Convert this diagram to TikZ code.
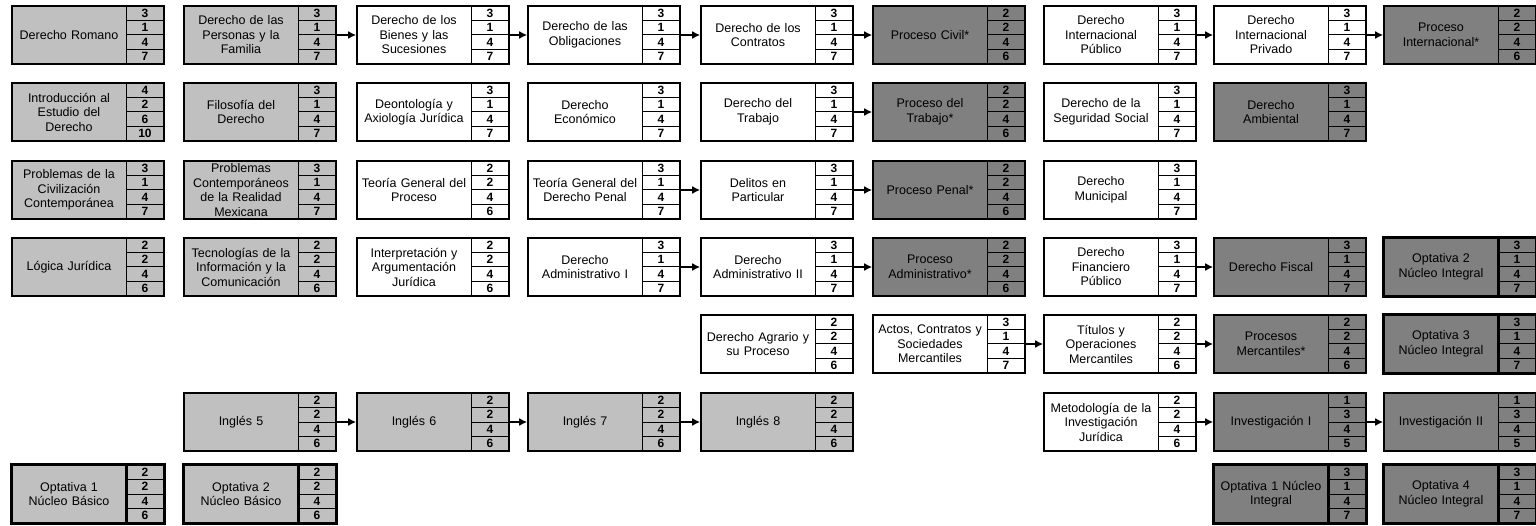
\documentclass[tikz,border=0pt]{standalone}
\usepackage{fontspec}
\setmainfont{Liberation Sans}
\usepackage{tikz}
\usetikzlibrary{shapes, arrows.meta, positioning, fit}
\definecolor{claro}{RGB}{192,192,192}
\definecolor{oscuro}{RGB}{128,128,128}
\tikzset{
  nombre/.style={rectangle, draw, line width=1pt, minimum width=114pt, minimum height=58pt, text width=110pt, align=center, inner sep=2pt, outer sep=0pt, anchor=north west, font=\fontsize{12.5}{14.5}\selectfont},
  celda/.style={rectangle, draw, line width=1pt, minimum width=38pt, minimum height=14.5pt, inner sep=0pt, outer sep=0pt, font=\fontsize{12}{12}\selectfont\bfseries},
  marco/.style={rectangle, draw, line width=1.6pt, inner sep=0pt},
  basica/.style={fill=claro},
  disciplinar/.style={fill=white},
  terminal/.style={fill=oscuro},
  flecha/.style={-{Latex[length=8pt, width=8pt]}, line width=2.4pt},
}
% one subject: name, top left corner, style, text, four numbers
\newcommand{\materia}[8]{%
  \node[nombre, #3] (#1) at #2 {#4};
  \node[celda, #3, anchor=north west] (#1_1) at (#1.north east) {#5};
  \node[celda, #3, below=0pt of #1_1] (#1_2) {#6};
  \node[celda, #3, below=0pt of #1_2] (#1_3) {#7};
  \node[celda, #3, below=0pt of #1_3] (#1_4) {#8};
  \node[marco, fit={(#1)(#1_4)}] (#1_box) {};
}
% heavy frame of the optional subjects
\newcommand{\optativa}[1]{%
  \draw[line width=3pt] (#1_box.north west) rectangle (#1_box.south east) (#1.north east) -- (#1.south east);
}

\begin{document}
\begin{tikzpicture}[x=1pt, y=1pt]
\useasboundingbox (0,0) rectangle (1536,-526);
%row 1
\materia{romano}{(12,-6)}{basica}{Derecho Romano}{3}{1}{4}{7}
\materia{personas}{(184,-6)}{basica}{Derecho de las\\Personas y la\\Familia}{3}{1}{4}{7}
\materia{bienes}{(357,-6)}{disciplinar}{Derecho de los\\Bienes y las\\Sucesiones}{3}{1}{4}{7}
\materia{obligaciones}{(528,-6)}{disciplinar}{Derecho de las\\Obligaciones}{3}{1}{4}{7}
\materia{contratos}{(701,-6)}{disciplinar}{Derecho de los\\Contratos}{3}{1}{4}{7}
\materia{pcivil}{(873,-6)}{terminal}{Proceso Civil*}{2}{2}{4}{6}
\materia{dipublico}{(1044,-6)}{disciplinar}{Derecho\\Internacional\\Público}{3}{1}{4}{7}
\materia{diprivado}{(1214,-6)}{disciplinar}{Derecho\\Internacional\\Privado}{3}{1}{4}{7}
\materia{pinternacional}{(1384,-6)}{terminal}{Proceso\\Internacional*}{2}{2}{4}{6}
%row 2
\materia{introduccion}{(12,-83)}{basica}{Introducción al\\Estudio del\\Derecho}{4}{2}{6}{10}
\materia{filosofia}{(184,-83)}{basica}{Filosofía del\\Derecho}{3}{1}{4}{7}
\materia{deontologia}{(357,-83)}{disciplinar}{Deontología y\\Axiología Jurídica}{3}{1}{4}{7}
\materia{economico}{(528,-83)}{disciplinar}{Derecho\\Económico}{3}{1}{4}{7}
\materia{trabajo}{(701,-83)}{disciplinar}{Derecho del\\Trabajo}{3}{1}{4}{7}
\materia{ptrabajo}{(873,-83)}{terminal}{Proceso del\\Trabajo*}{2}{2}{4}{6}
\materia{seguridad}{(1044,-83)}{disciplinar}{Derecho de la\\Seguridad Social}{3}{1}{4}{7}
\materia{ambiental}{(1214,-83)}{terminal}{Derecho\\Ambiental}{3}{1}{4}{7}
%row 3
\materia{civilizacion}{(12,-161)}{basica}{Problemas de la\\Civilización\\Contemporánea}{3}{1}{4}{7}
\materia{realidad}{(184,-161)}{basica}{Problemas\\Contemporáneos\\de la Realidad\\Mexicana}{3}{1}{4}{7}
\materia{tgproceso}{(357,-161)}{disciplinar}{Teoría General del\\Proceso}{2}{2}{4}{6}
\materia{tgpenal}{(528,-161)}{disciplinar}{Teoría General del\\Derecho Penal}{3}{1}{4}{7}
\materia{delitos}{(701,-161)}{disciplinar}{Delitos en\\Particular}{3}{1}{4}{7}
\materia{ppenal}{(873,-161)}{terminal}{Proceso Penal*}{2}{2}{4}{6}
\materia{municipal}{(1044,-161)}{disciplinar}{Derecho\\Municipal}{3}{1}{4}{7}
%row 4
\materia{logica}{(12,-238)}{basica}{Lógica Jurídica}{2}{2}{4}{6}
\materia{tic}{(184,-238)}{basica}{Tecnologías de la\\Información y la\\Comunicación}{2}{2}{4}{6}
\materia{interpretacion}{(357,-238)}{disciplinar}{Interpretación y\\Argumentación\\Jurídica}{2}{2}{4}{6}
\materia{admin_i}{(528,-238)}{disciplinar}{Derecho\\Administrativo I}{3}{1}{4}{7}
\materia{admin_ii}{(701,-238)}{disciplinar}{Derecho\\Administrativo II}{3}{1}{4}{7}
\materia{padmin}{(873,-238)}{terminal}{Proceso\\Administrativo*}{2}{2}{4}{6}
\materia{financiero}{(1044,-238)}{disciplinar}{Derecho\\Financiero\\Público}{3}{1}{4}{7}
\materia{fiscal}{(1214,-238)}{terminal}{Derecho Fiscal}{3}{1}{4}{7}
\materia{opt2_ni}{(1384,-238)}{terminal}{Optativa 2\\Núcleo Integral}{3}{1}{4}{7}
%row 5
\materia{agrario}{(701,-315)}{disciplinar}{Derecho Agrario y\\su Proceso}{2}{2}{4}{6}
\materia{actos}{(873,-315)}{disciplinar}{Actos, Contratos y\\Sociedades\\Mercantiles}{3}{1}{4}{7}
\materia{titulos}{(1044,-315)}{disciplinar}{Títulos y\\Operaciones\\Mercantiles}{2}{2}{4}{6}
\materia{pmercantiles}{(1214,-315)}{terminal}{Procesos\\Mercantiles*}{2}{2}{4}{6}
\materia{opt3_ni}{(1384,-315)}{terminal}{Optativa 3\\Núcleo Integral}{3}{1}{4}{7}
%row 6
\materia{ingles5}{(184,-393)}{basica}{Inglés 5}{2}{2}{4}{6}
\materia{ingles6}{(357,-393)}{basica}{Inglés 6}{2}{2}{4}{6}
\materia{ingles7}{(528,-393)}{basica}{Inglés 7}{2}{2}{4}{6}
\materia{ingles8}{(701,-393)}{basica}{Inglés 8}{2}{2}{4}{6}
\materia{metodologia}{(1044,-393)}{disciplinar}{Metodología de la\\Investigación\\Jurídica}{2}{2}{4}{6}
\materia{invest_i}{(1214,-393)}{terminal}{Investigación I}{1}{3}{4}{5}
\materia{invest_ii}{(1384,-393)}{terminal}{Investigación II}{1}{3}{4}{5}
%row 7
\materia{opt1_nb}{(12,-465)}{basica}{Optativa 1\\Núcleo Básico}{2}{2}{4}{6}
\materia{opt2_nb}{(184,-465)}{basica}{Optativa 2\\Núcleo Básico}{2}{2}{4}{6}
\materia{opt1_ni}{(1214,-465)}{terminal}{Optativa 1 Núcleo\\Integral}{3}{1}{4}{7}
\materia{opt4_ni}{(1384,-465)}{terminal}{Optativa 4\\Núcleo Integral}{3}{1}{4}{7}
%heavy frames
\optativa{opt2_ni}
\optativa{opt3_ni}
\optativa{opt1_nb}
\optativa{opt2_nb}
\optativa{opt1_ni}
\optativa{opt4_ni}
% links
\draw[flecha] (personas_box) -- (bienes_box);
\draw[flecha] (bienes_box) -- (obligaciones_box);
\draw[flecha] (obligaciones_box) -- (contratos_box);
\draw[flecha] (contratos_box) -- (pcivil_box);
\draw[flecha] (dipublico_box) -- (diprivado_box);
\draw[flecha] (diprivado_box) -- (pinternacional_box);
\draw[flecha] (trabajo_box) -- (ptrabajo_box);
\draw[flecha] (tgpenal_box) -- (delitos_box);
\draw[flecha] (delitos_box) -- (ppenal_box);
\draw[flecha] (admin_i_box) -- (admin_ii_box);
\draw[flecha] (admin_ii_box) -- (padmin_box);
\draw[flecha] (financiero_box) -- (fiscal_box);
\draw[flecha] (actos_box) -- (titulos_box);
\draw[flecha] (titulos_box) -- (pmercantiles_box);
\draw[flecha] (ingles5_box) -- (ingles6_box);
\draw[flecha] (ingles6_box) -- (ingles7_box);
\draw[flecha] (ingles7_box) -- (ingles8_box);
\draw[flecha] (metodologia_box) -- (invest_i_box);
\draw[flecha] (invest_i_box) -- (invest_ii_box);
\end{tikzpicture}
\end{document}
